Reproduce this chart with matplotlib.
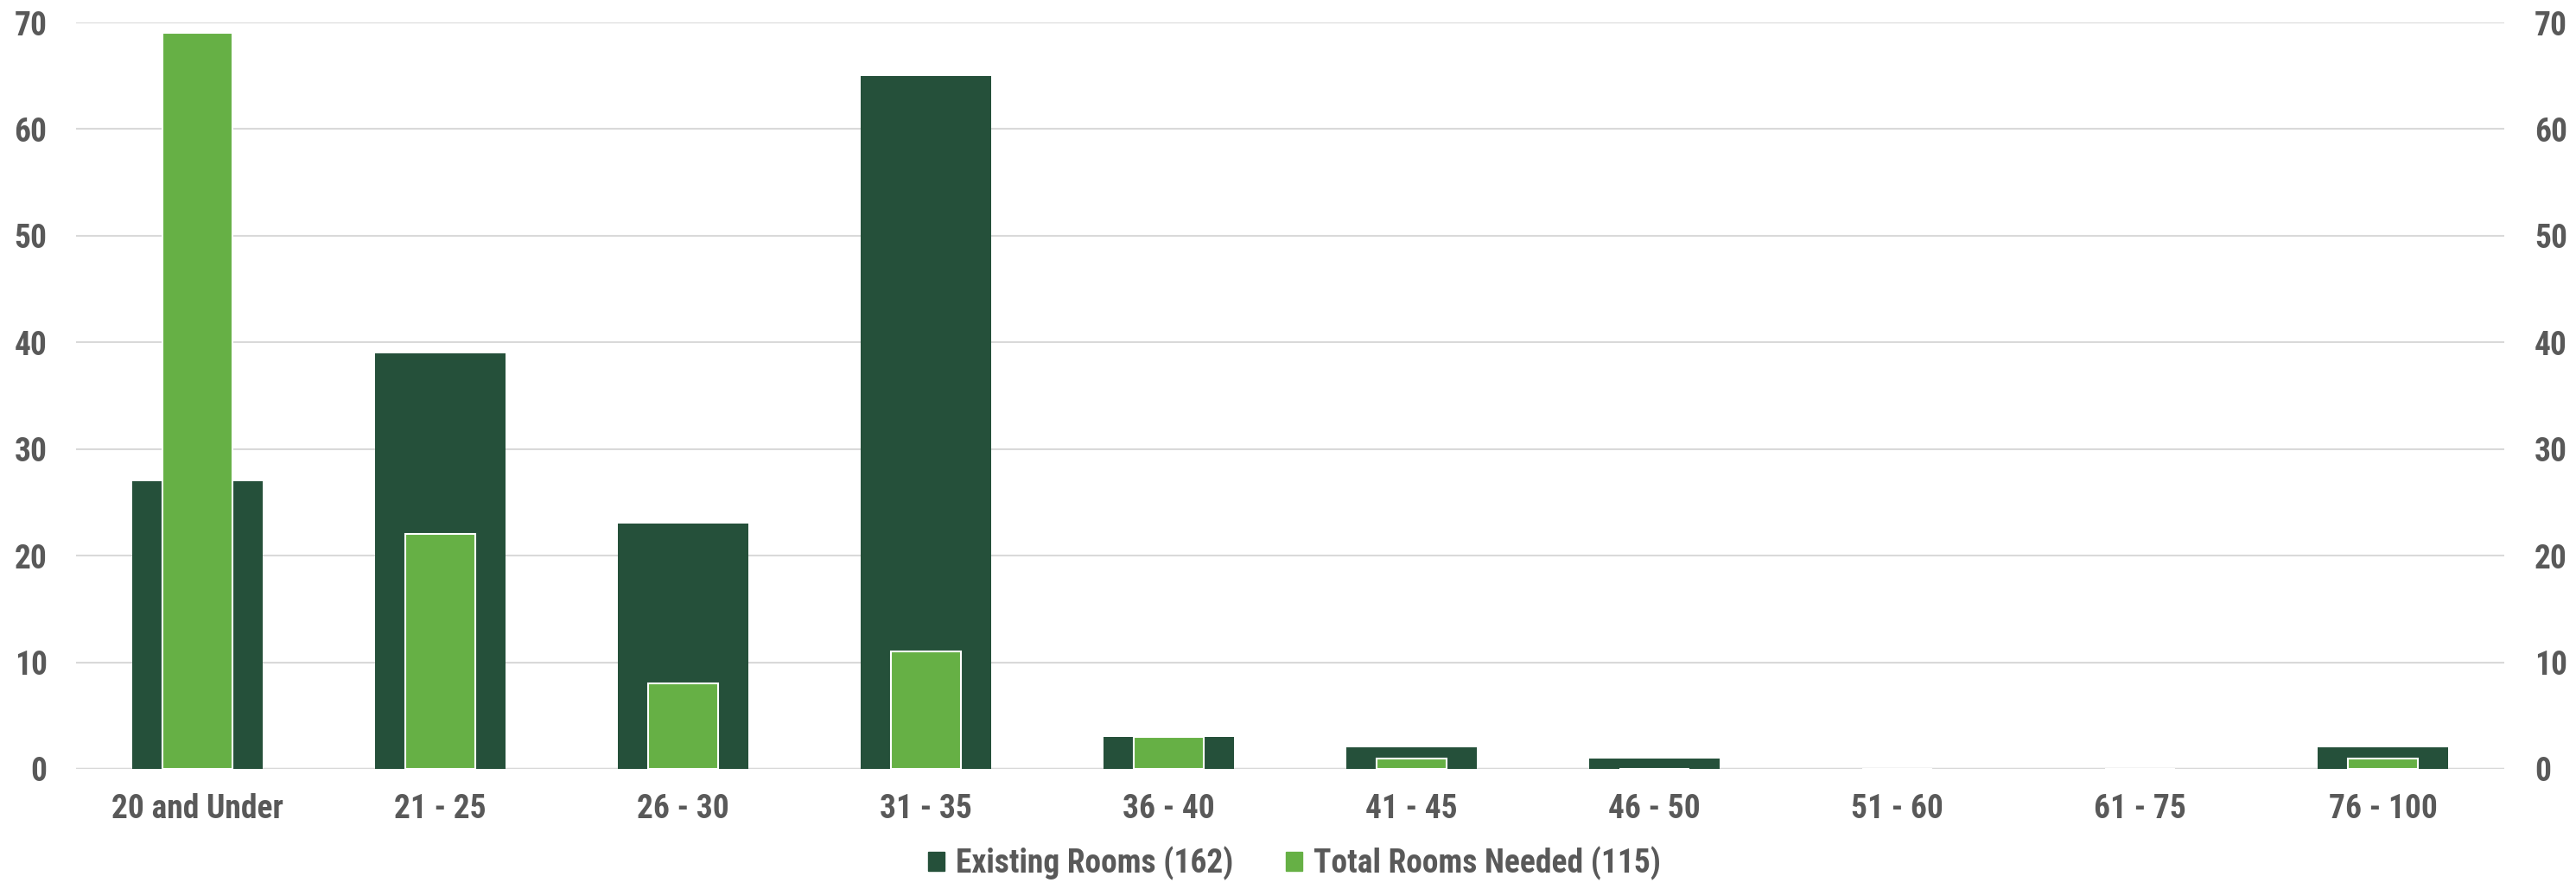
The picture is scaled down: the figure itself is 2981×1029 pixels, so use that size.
import numpy as np
import matplotlib
matplotlib.use("Agg")
import matplotlib.pyplot as plt
from matplotlib.patches import Patch

# data
categories = ["20 and Under", "21 - 25", "26 - 30", "31 - 35", "36 - 40",
              "41 - 45", "46 - 50", "51 - 60", "61 - 75", "76 - 100"]
existing = [27, 39, 23, 65, 3, 2, 1, 0, 0, 2]
needed = [69, 22, 8, 11, 3, 1, 0, 0, 0, 1]
yticks = [0, 10, 20, 30, 40, 50, 60, 70]

dark = "#25503A"
light = "#66B045"
txt = "#595959"
grid = "#D9D9D9"

plt.rcParams['font.family'] = ['Roboto Condensed', 'Open Sans Condensed', 'Liberation Sans Narrow',
                               'Liberation Sans', 'DejaVu Sans']
plt.rcParams['font.weight'] = 'bold'
plt.rcParams['font.stretch'] = 'condensed'
fs = 27

fig = plt.figure(figsize=(29.81, 10.29), dpi=100)
ax = fig.add_axes([0.0295, 0.1351, 0.9427, 0.8396])

x = np.arange(len(categories))
ax.bar(x, existing, width=0.535, color=dark, zorder=2)
ax.bar(x, needed, width=0.29, color=light, edgecolor="white", linewidth=1.5, zorder=3)

ax.set_xlim(-0.5, len(categories) - 0.5)
ax.set_ylim(0, 70)
ax.set_yticks(yticks)
ax.set_xticks(x)
ax.set_xticklabels(categories)
ax.yaxis.grid(True, color=grid, linewidth=1.5, zorder=0)
ax.set_axisbelow(True)
for s in ax.spines.values():
    s.set_visible(False)
ax.axhline(0, color=grid, linewidth=2.5, zorder=1)
ax.tick_params(axis="both", length=0, labelsize=fs, colors=txt)
ax.tick_params(axis="x", pad=20)
ax.tick_params(axis="y", pad=24)

# right axis mirrors the left one
ax2 = ax.twinx()
ax2.set_ylim(0, 70)
ax2.set_yticks(yticks)
for s in ax2.spines.values():
    s.set_visible(False)
ax2.tick_params(axis="y", length=0, labelsize=fs, colors=txt, pad=25)

handles = [Patch(color=dark, label="Existing Rooms (162)"),
           Patch(color=light, label="Total Rooms Needed (115)")]
fig.legend(handles=handles, loc="center", bbox_to_anchor=(0.5025, 0.029), ncol=2,
           frameon=False, fontsize=fs, labelcolor=txt, handlelength=0.52,
           handleheight=0.52, handletextpad=0.35, columnspacing=1.6)

fig.savefig("out.png", dpi=100)
